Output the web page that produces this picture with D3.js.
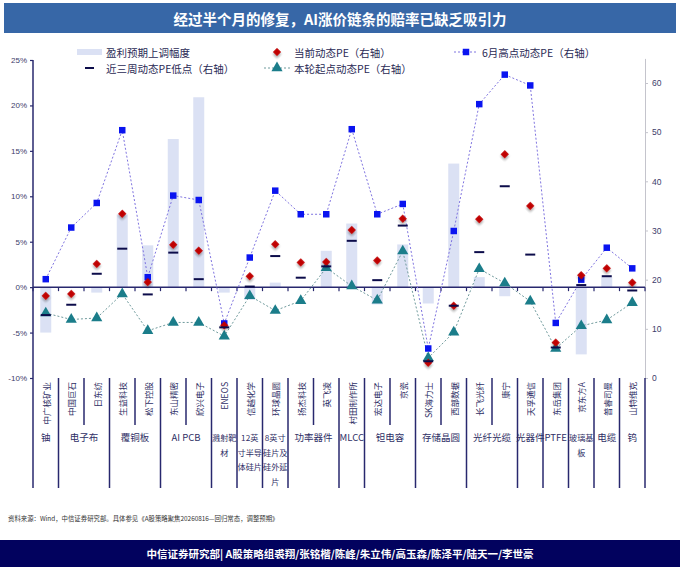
<!DOCTYPE html>
<html>
<head>
<meta charset="utf-8">
<script src="https://cdn.jsdelivr.net/npm/d3@7"></script>
<style>
  body { margin: 0; background: #fff; }
  svg { display: block; font-family: "Liberation Sans", "Noto Sans CJK SC", sans-serif; }
</style>
</head>
<body>
<div id="chart"></div>
<script>
// 公司（横轴）
const companies = ["中广核矿业", "中国巨石", "日东纺", "生益科技", "松下控股", "东山精密", "欣兴电子", "ENEOS",
  "信越化学", "环球晶圆", "扬杰科技", "英飞凌", "村田制作所", "宏达电子", "京瓷", "SK海力士",
  "西部数据", "长飞光纤", "康宁", "天孚通信", "东岳集团", "京东方A", "普睿司曼", "山特维克"];

// 所属环节
const groupOf = ["铀", "电子布", "电子布", "覆铜板", "覆铜板", "AI PCB", "AI PCB", "溅射靶材",
  "12英寸半导体硅片", "8英寸硅片及硅外延片", "功率器件", "功率器件", "MLCC", "钽电容", "钽电容", "存储晶圆",
  "存储晶圆", "光纤光缆", "光纤光缆", "光器件", "PTFE", "玻璃基板", "电缆", "钨"];

// 换行的环节名称
const groupLines = {
  "溅射靶材": ["溅射靶", "材"],
  "12英寸半导体硅片": ["12英", "寸半导", "体硅片"],
  "8英寸硅片及硅外延片": ["8英寸", "硅片及", "硅外延", "片"],
  "玻璃基板": ["玻璃基", "板"]
};

// 盈利预期上调幅度（%，左轴）
const upgrade = [-5.0, 0, -0.6, 8.0, 4.6, 16.3, 20.9, -0.6, -1.4, 0.5, 0, 4.0,
  7.0, -1.9, 4.7, -1.8, 13.6, 1.1, -1.0, 0, 0, -7.4, 1.1, 0];

// 当前动态PE（右轴）
const curPE = [16.7, 17.1, 23.2, 33.4, 19.5, 27.1, 25.9, 10.7, 20.7, 27.2, 23.5, 23.6,
  30.1, 23.9, 32.4, 3.1, 14.7, 32.3, 45.5, 35.0, 7.2, 20.9, 22.3, 19.4];

// 6月高点动态PE（右轴）
const highPE = [20.1, 30.6, 35.6, 50.4, 20.5, 37.1, 36.2, 11.1, 24.5, 38.1, 33.3, 33.3,
  50.6, 33.3, 35.4, 6.0, 29.9, 55.7, 61.7, 59.5, 11.2, 20.0, 26.5, 22.3];

// 近三周动态PE低点（右轴）
const lowPE = [12.8, 14.9, 21.2, 26.3, 17.0, 25.5, 20.1, 10.3, 18.6, 24.8, 20.4, 22.7,
  27.9, 19.9, 31.0, 3.4, 14.7, 25.6, 39.0, 25.1, 6.2, 18.9, 20.7, 17.8];

// 本轮起点动态PE（右轴）
const startPE = [13.2, 11.9, 12.2, 17.1, 9.6, 11.3, 11.3, 8.5, 16.7, 13.7, 15.7, 22.4,
  18.7, 15.8, 25.8, 4.1, 9.3, 22.2, 19.3, 15.6, 6.0, 10.6, 11.8, 15.3];

// 刻度
const leftTicks = [-10, -5, 0, 5, 10, 15, 20, 25];
const rightTicks = [0, 10, 20, 30, 40, 50, 60];

const titleText = "经过半个月的修复，AI涨价链条的赔率已缺乏吸引力";
const sourceText = "资料来源：Wind，中信证券研究部。具体参见《A股策略聚焦20260816—回归常态，调整预期》";
const footerText = "中信证券研究部| A股策略组裘翔/张铭楷/陈峰/朱立伟/高玉森/陈泽平/陆天一/李世豪";

const width = 680, height = 567;
const navy = "#28286e";
const cjk = "'Noto Sans CJK SC', sans-serif";

const svg = d3.select("#chart").append("svg")
  .attr("width", width)
  .attr("height", height)
  .attr("viewBox", [0, 0, width, height]);

// 阴影
svg.append("defs").append("filter")
  .attr("id", "shadow")
  .attr("x", "-50%").attr("y", "-50%").attr("width", "200%").attr("height", "200%")
  .append("feDropShadow")
  .attr("dx", 1.5).attr("dy", 1.5).attr("stdDeviation", 0.8)
  .attr("flood-color", "#000").attr("flood-opacity", 0.35);

// 标题栏
svg.append("rect").attr("x", 4).attr("y", 3).attr("width", 672).attr("height", 30).attr("fill", "#3767a7");
svg.append("text")
  .attr("x", width / 2).attr("y", 18.5)
  .attr("text-anchor", "middle").attr("dominant-baseline", "central")
  .attr("fill", "#fff").attr("font-weight", "bold").attr("font-size", 14.5)
  .style("font-family", cjk)
  .text(titleText);

// 比例尺
const x = d3.scaleBand().domain(companies).range([33, 645]);
const yL = d3.scaleLinear().domain([-10, 25]).range([378, 60]);
const yR = d3.scaleLinear().domain([0, 65]).range([378, 58.4]);
const cx = i => x(companies[i]) + x.bandwidth() / 2;

// 柱：盈利预期上调幅度
svg.append("g")
  .selectAll("rect")
  .data(upgrade)
  .join("rect")
  .attr("x", (d, i) => cx(i) - 5.5)
  .attr("width", 11)
  .attr("y", d => yL(Math.max(0, d)))
  .attr("height", d => Math.abs(yL(d) - yL(0)))
  .attr("fill", "#dbe1f4");

// 左轴
svg.append("g")
  .attr("transform", "translate(33,0)")
  .call(d3.axisLeft(yL).tickValues(leftTicks).tickFormat(d => d + "%").tickSize(3).tickPadding(3).tickSizeOuter(0))
  .call(g => g.select(".domain").remove())
  .call(g => g.selectAll("line").attr("stroke", navy).attr("stroke-width", 1.2))
  .call(g => g.selectAll("text").attr("font-size", 8).attr("fill", "#3c3c6a"));

// 右轴
svg.append("g")
  .attr("transform", "translate(645,0)")
  .call(d3.axisRight(yR).tickValues(rightTicks).tickSize(3).tickPadding(4).tickSizeOuter(0))
  .call(g => g.select(".domain").attr("stroke", "#c4c4cc"))
  .call(g => g.selectAll("line").attr("stroke", "#c4c4cc"))
  .call(g => g.selectAll("text").attr("font-size", 8.5).attr("fill", "#3c3c6a"));

// 零轴及刻度
const bounds = d3.range(companies.length + 1).map(k => k === companies.length ? x.range()[1] : x(companies[k]));
svg.append("line")
  .attr("x1", 33).attr("x2", 645)
  .attr("y1", yL(0)).attr("y2", yL(0))
  .attr("stroke", navy).attr("stroke-width", 1.5);
svg.append("g")
  .selectAll("line")
  .data(bounds)
  .join("line")
  .attr("x1", d => d).attr("x2", d => d)
  .attr("y1", yL(0)).attr("y2", yL(0) + 4)
  .attr("stroke", navy).attr("stroke-width", 1.2);

// 左轴竖线（延伸至分类标签底部）
svg.append("line")
  .attr("x1", 33).attr("x2", 33).attr("y1", yL(25)).attr("y2", 488)
  .attr("stroke", navy).attr("stroke-width", 1.5);

// 分类分隔线
svg.append("g")
  .selectAll("line")
  .data(bounds.slice(1))
  .join("line")
  .attr("x1", d => d).attr("x2", d => d)
  .attr("y1", 378)
  .attr("y2", (d, j) => {
    const k = j + 1;
    return (k === companies.length || groupOf[k] !== groupOf[k - 1]) ? 488 : 425;
  })
  .attr("stroke", navy).attr("stroke-width", 1.5);

// 公司名称（竖排）
svg.append("g")
  .selectAll("text")
  .data(companies)
  .join("text")
  .attr("transform", (d, i) => `translate(${cx(i)},382) rotate(-90)`)
  .attr("text-anchor", "end")
  .attr("dominant-baseline", "central")
  .attr("font-size", 8.5)
  .attr("fill", "#2f2f66")
  .style("font-family", cjk)
  .text(d => d);

// 环节名称
const groups = [];
groupOf.forEach((g, i) => {
  if (i === 0 || g !== groupOf[i - 1]) groups.push({ name: g, first: i, last: i });
  else groups[groups.length - 1].last = i;
});
const gLabels = svg.append("g")
  .selectAll("text")
  .data(groups)
  .join("text")
  .attr("text-anchor", "middle")
  .attr("font-size", d => groupLines[d.name] ? 8.2 : 9.5)
  .attr("fill", "#2f2f66")
  .style("font-family", cjk)
  .attr("x", d => (x(companies[d.first]) + x(companies[d.last]) + x.bandwidth()) / 2)
  .attr("y", 441);
gLabels.selectAll("tspan")
  .data(d => (groupLines[d.name] || [d.name]).map(t => ({ t, xc: (x(companies[d.first]) + x(companies[d.last]) + x.bandwidth()) / 2 })))
  .join("tspan")
  .attr("x", d => d.xc)
  .attr("dy", (d, i) => i === 0 ? 0 : 14.5)
  .text(d => d.t);

// 折线：6月高点与本轮起点
const line = d3.line().x((d, i) => cx(i)).y(d => yR(d));
svg.append("path")
  .attr("d", line(highPE))
  .attr("fill", "none").attr("stroke", "#7f74e0").attr("stroke-width", 1).attr("stroke-dasharray", "2,2");
svg.append("path")
  .attr("d", line(startPE))
  .attr("fill", "none").attr("stroke", "#6f9a9c").attr("stroke-width", 1).attr("stroke-dasharray", "2,2");

// 标记
const sq = d3.symbol().type(d3.symbolSquare).size(42);
const tri = d3.symbol().type(d3.symbolTriangle).size(54);
const dia = d3.symbol().type(d3.symbolSquare).size(34);

svg.append("g")
  .selectAll("path")
  .data(startPE)
  .join("path")
  .attr("transform", (d, i) => `translate(${cx(i)},${yR(d)})`)
  .attr("d", tri)
  .attr("fill", "#1b7d8a");

svg.append("g")
  .selectAll("path")
  .data(highPE)
  .join("path")
  .attr("transform", (d, i) => `translate(${cx(i)},${yR(d)})`)
  .attr("d", sq)
  .attr("fill", "#0a14f0");

svg.append("g")
  .selectAll("path")
  .data(curPE)
  .join("path")
  .attr("transform", (d, i) => `translate(${cx(i)},${yR(d)}) rotate(45)`)
  .attr("d", dia)
  .attr("fill", "#c00000")
  .attr("filter", "url(#shadow)");

svg.append("g")
  .selectAll("line")
  .data(lowPE)
  .join("line")
  .attr("x1", (d, i) => cx(i) - 5).attr("x2", (d, i) => cx(i) + 5)
  .attr("y1", d => yR(d)).attr("y2", d => yR(d))
  .attr("stroke", "#0c0c4a").attr("stroke-width", 2);

// 图例
const legend = svg.append("g")
  .attr("font-size", 10.5)
  .attr("fill", "#2a2a55")
  .style("font-family", cjk);

legend.append("rect").attr("x", 77).attr("y", 49).attr("width", 25).attr("height", 6).attr("fill", "#dbe1f4");
legend.append("text").attr("x", 106).attr("y", 52).attr("dominant-baseline", "central").text("盈利预期上调幅度");

legend.append("path").attr("transform", "translate(277,52) rotate(45)").attr("d", dia).attr("fill", "#c00000").attr("filter", "url(#shadow)");
legend.append("text").attr("x", 294).attr("y", 52).attr("dominant-baseline", "central").text("当前动态PE（右轴）");

legend.append("line").attr("x1", 454).attr("x2", 478).attr("y1", 52).attr("y2", 52)
  .attr("stroke", "#7f74e0").attr("stroke-dasharray", "2,2");
legend.append("path").attr("transform", "translate(466,52)").attr("d", sq).attr("fill", "#0a14f0");
legend.append("text").attr("x", 482).attr("y", 52).attr("dominant-baseline", "central").text("6月高点动态PE（右轴）");

legend.append("line").attr("x1", 85).attr("x2", 94).attr("y1", 68).attr("y2", 68)
  .attr("stroke", "#0c0c4a").attr("stroke-width", 2);
legend.append("text").attr("x", 106).attr("y", 68).attr("dominant-baseline", "central").text("近三周动态PE低点（右轴）");

legend.append("line").attr("x1", 264).attr("x2", 290).attr("y1", 68).attr("y2", 68)
  .attr("stroke", "#6f9a9c").attr("stroke-dasharray", "2,2");
legend.append("path").attr("transform", "translate(277,68)").attr("d", tri).attr("fill", "#1b7d8a");
legend.append("text").attr("x", 294).attr("y", 68).attr("dominant-baseline", "central").text("本轮起点动态PE（右轴）");

// 资料来源
svg.append("text")
  .attr("x", 8).attr("y", 518)
  .attr("dominant-baseline", "central")
  .attr("font-size", 6.4)
  .attr("fill", "#333")
  .style("font-family", cjk)
  .text(sourceText);

// 底栏
svg.append("rect").attr("x", 0).attr("y", 540).attr("width", width).attr("height", 27).attr("fill", "#02025e");
svg.append("text")
  .attr("x", width / 2).attr("y", 553)
  .attr("text-anchor", "middle").attr("dominant-baseline", "central")
  .attr("fill", "#fff").attr("font-weight", "bold").attr("font-size", 10.5)
  .style("font-family", cjk)
  .text(footerText);
</script>
</body>
</html>
